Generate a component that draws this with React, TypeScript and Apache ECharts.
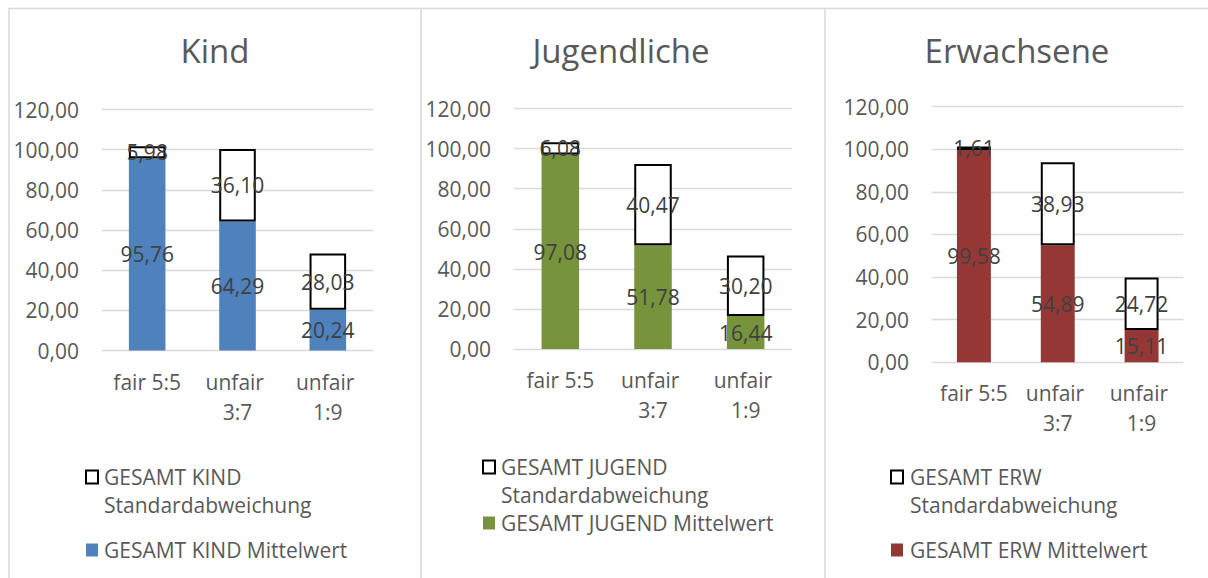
import React, { useEffect, useRef } from "react";
import * as echarts from "echarts";

const categories = ["fair 5:5", "unfair 3:7", "unfair 1:9"];
const yTicks = [0, 20, 40, 60, 80, 100, 120];

const kindMean = [95.76, 64.29, 20.24];
const kindStd = [5.98, 36.1, 28.03];
const jugendMean = [97.08, 51.78, 16.44];
const jugendStd = [6.08, 40.47, 30.2];
const erwMean = [99.58, 54.89, 15.11];
const erwStd = [1.61, 38.93, 24.72];

const titles = ["Kind", "Jugendliche", "Erwachsene"];
const meanNames = ["GESAMT KIND Mittelwert", "GESAMT JUGEND Mittelwert", "GESAMT ERW Mittelwert"];
const stdNames = ["GESAMT KIND Standardabweichung", "GESAMT JUGEND Standardabweichung", "GESAMT ERW Standardabweichung"];

const FONT = "'Open Sans', 'Noto Sans', sans-serif";
const TXT = "#595959";
const LBL = "#404040";
const GRIDC = "#d9d9d9";

const panels = [
  { mean: kindMean, std: kindStd, color: "#4F81BD", grid: { left: 102, top: 109.5, width: 271, height: 241 }, titleX: 215, leg: { icon: 86, text: 104, l1: 477, l2: 505, l3: 550 } },
  { mean: jugendMean, std: jugendStd, color: "#77933C", grid: { left: 514, top: 108.5, width: 278, height: 240.5 }, titleX: 621, leg: { icon: 483, text: 501, l1: 467, l2: 495, l3: 523 } },
  { mean: erwMean, std: erwStd, color: "#953735", grid: { left: 932, top: 106.5, width: 251.5, height: 255.8 }, titleX: 1017, leg: { icon: 891, text: 910, l1: 477, l2: 505, l3: 550 } },
];

const fmt = (v: number) => v.toFixed(2).replace(".", ",");

export default function App() {
  const ref = useRef<HTMLDivElement>(null);
  useEffect(() => {
    if (!ref.current) return;
    const chart = echarts.init(ref.current, undefined, { renderer: "svg" });

    const graphics: any[] = [
      { type: "line", shape: { x1: 9, y1: 8.5, x2: 1208, y2: 8.5 }, style: { stroke: GRIDC, lineWidth: 1.5 } },
      { type: "line", shape: { x1: 9, y1: 8, x2: 9, y2: 578 }, style: { stroke: GRIDC, lineWidth: 1.5 } },
      { type: "line", shape: { x1: 421, y1: 8, x2: 421, y2: 578 }, style: { stroke: GRIDC, lineWidth: 1.5 } },
      { type: "line", shape: { x1: 825, y1: 8, x2: 825, y2: 578 }, style: { stroke: GRIDC, lineWidth: 1.5 } },
    ];

    panels.forEach((p, i) => {
      const first = stdNames[i].split(" Standardabweichung")[0];
      graphics.push(
        { type: "rect", shape: { x: p.leg.icon, y: p.leg.l1 - 6.5, width: 12, height: 13 }, style: { fill: "#fff", stroke: "#000", lineWidth: 2 } },
        { type: "text", x: p.leg.text, y: p.leg.l1, style: { text: first, font: `21px ${FONT}`, fill: TXT, verticalAlign: "middle" } },
        { type: "text", x: p.leg.text, y: p.leg.l2, style: { text: "Standardabweichung", font: `21px ${FONT}`, fill: TXT, verticalAlign: "middle" } },
        { type: "rect", shape: { x: p.leg.icon, y: p.leg.l3 - 6.5, width: 12, height: 13 }, style: { fill: p.color } },
        { type: "text", x: p.leg.text, y: p.leg.l3, style: { text: meanNames[i], font: `21px ${FONT}`, fill: TXT, verticalAlign: "middle" } }
      );
    });

    const option: any = {
      animation: false,
      backgroundColor: "#fff",
      textStyle: { fontFamily: FONT },
      title: panels.map((p, i) => ({
        text: titles[i],
        left: p.titleX,
        top: 34,
        padding: 0,
        textAlign: "center",
        textStyle: { fontFamily: FONT, fontSize: 33, fontWeight: "normal", color: TXT },
      })),
      grid: panels.map((p) => ({ ...p.grid, containLabel: false })),
      xAxis: panels.map((p, i) => ({
        type: "category",
        gridIndex: i,
        data: categories,
        axisLine: { show: false },
        axisTick: { show: false },
        axisLabel: {
          color: TXT,
          fontSize: 21,
          fontFamily: FONT,
          margin: 16,
          lineHeight: 30,
          width: 82,
          overflow: "break",
          interval: 0,
        },
      })),
      yAxis: panels.map((p, i) => ({
        type: "value",
        gridIndex: i,
        min: yTicks[0],
        max: yTicks[yTicks.length - 1],
        interval: yTicks[1] - yTicks[0],
        axisLine: { show: false },
        axisTick: { show: false },
        splitLine: { lineStyle: { color: GRIDC, width: 1.3 } },
        axisLabel: { color: TXT, fontSize: 21, fontFamily: FONT, margin: 23, formatter: (v: number) => fmt(v) },
      })),
      series: panels.flatMap((p, i) => [
        {
          name: meanNames[i],
          type: "bar",
          stack: "s" + i,
          xAxisIndex: i,
          yAxisIndex: i,
          barWidth: "40.5%",
          data: p.mean,
          itemStyle: { color: p.color },
          label: { show: true, position: "inside", color: LBL, fontSize: 21, fontFamily: FONT, formatter: (d: any) => fmt(d.value) },
        },
        {
          name: stdNames[i],
          type: "bar",
          stack: "s" + i,
          xAxisIndex: i,
          yAxisIndex: i,
          barWidth: "40.5%",
          data: p.std,
          itemStyle: { color: "#fff", borderColor: "#000", borderWidth: 2 },
          label: { show: true, position: "inside", color: LBL, fontSize: 21, fontFamily: FONT, formatter: (d: any) => fmt(d.value) },
        },
      ]),
      graphic: graphics,
    };

    chart.setOption(option);
    return () => chart.dispose();
  }, []);

  return <div ref={ref} style={{ position: "fixed", left: 0, top: 0, width: 1208, height: 578 }} />;
}
